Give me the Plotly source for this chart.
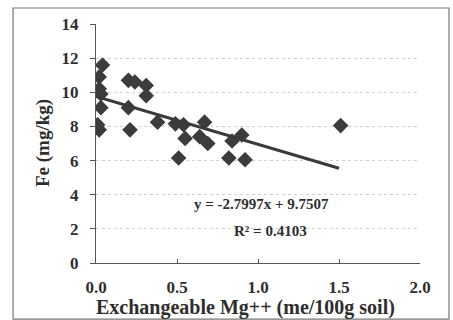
import plotly.graph_objects as go

# Data
mg = [0.04, 0.02, 0.02, 0.03, 0.03, 0.01, 0.02,
      0.20, 0.24, 0.31, 0.31, 0.20, 0.21,
      0.38, 0.49, 0.54, 0.67, 0.55, 0.64, 0.69, 0.51,
      0.84, 0.90, 0.82, 0.92, 1.51]
fe = [11.6, 10.9, 10.2, 9.9, 9.1, 8.1, 7.8,
      10.7, 10.6, 10.4, 9.8, 9.1, 7.8,
      8.25, 8.15, 8.1, 8.25, 7.3, 7.4, 7.0, 6.15,
      7.15, 7.5, 6.15, 6.05, 8.05]
slope, intercept = -2.7997, 9.7507
fit_x = [0.0, 1.5]
fit_y = [slope * v + intercept for v in fit_x]
x_ticks = [0.0, 0.5, 1.0, 1.5, 2.0]
x_tick_labels = ["0.0", "0.5", "1.0", "1.5", "2.0"]
y_ticks = [0, 2, 4, 6, 8, 10, 12, 14]

serif = "Liberation Serif, Times New Roman, serif"
txt = "#2e2e2e"

fig = go.Figure()
fig.add_trace(go.Scatter(
    x=mg, y=fe, mode="markers",
    marker=dict(symbol="diamond", size=12, color="#3c3c3c",
                line=dict(width=0)),
    showlegend=False))
fig.add_trace(go.Scatter(
    x=fit_x, y=fit_y, mode="lines",
    line=dict(color="#3a3a3a", width=3),
    showlegend=False))

fig.add_annotation(x=1.02, y=3.45, xref="x", yref="y",
                   text="y = -2.7997x + 9.7507", showarrow=False,
                   font=dict(family=serif, size=15, color=txt, weight="bold"))
fig.add_annotation(x=1.08, y=1.85, xref="x", yref="y",
                   text="R² = 0.4103", showarrow=False,
                   font=dict(family=serif, size=15, color=txt, weight="bold"))

# x-axis title as annotation
fig.add_annotation(x=0.46, y=-0.185, xref="paper", yref="paper",
                   text="Exchangeable Mg++ (me/100g soil)", showarrow=False,
                   xanchor="center", yanchor="middle",
                   font=dict(family=serif, size=20, color=txt, weight="bold"))
# y-axis title as annotation
fig.add_annotation(x=-0.165, y=0.5, xref="paper", yref="paper",
                   text="Fe (mg/kg)", showarrow=False, textangle=-90,
                   xanchor="center", yanchor="middle",
                   font=dict(family=serif, size=19, color=txt, weight="bold"))

# outer frame
fig.add_shape(type="rect", xref="paper", yref="paper",
              x0=-0.256, x1=1.0895, y0=-0.235, y1=1.067,
              line=dict(color="#777", width=1.2), layer="below")

fig.update_layout(
    width=453, height=320,
    margin=dict(l=96, r=33, t=24, b=57),
    paper_bgcolor="white", plot_bgcolor="white",
    xaxis=dict(range=[0, 2.0], tickvals=x_ticks, ticktext=x_tick_labels,
               showgrid=False, zeroline=False, showline=True,
               linecolor="#555", linewidth=1.2, automargin=False,
               ticks="inside", ticklen=4, tickcolor="#555",
               ticklabelstandoff=8,
               tickfont=dict(family=serif, size=17, color=txt, weight="bold")),
    yaxis=dict(range=[0, 14], tickvals=y_ticks,
               showgrid=True, gridcolor="#d0d0d0", griddash="dot", gridwidth=1,
               zeroline=False, showline=True, automargin=False,
               linecolor="#555", linewidth=1.2,
               ticks="outside", ticklen=5, tickcolor="#555",
               ticklabelstandoff=8,
               tickfont=dict(family=serif, size=17, color=txt, weight="bold")),
)

fig.write_html("out.html")
